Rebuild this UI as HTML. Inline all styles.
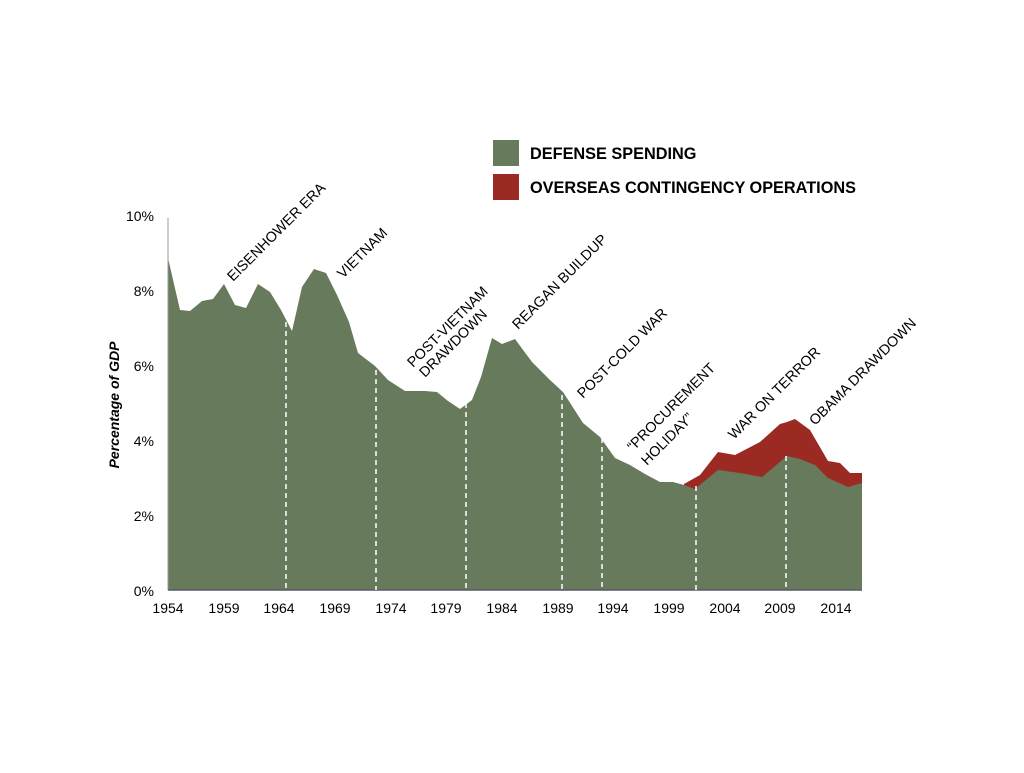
<!DOCTYPE html>
<html><head><style>body{margin:0;background:#fff}</style></head><body>
<svg width="1024" height="768" xmlns="http://www.w3.org/2000/svg" font-family="Liberation Sans, Arial, sans-serif">
<rect width="1024" height="768" fill="#fff"/>
<polygon fill="#9b2a22" points="684,484 700,475 718,452 735,455 760,442 780,424 787,422 795,419 810,430 828,461 840,463 850,473 862,473 862,490 684,490"/>
<polygon fill="#687a5c" points="168,590 168,258 180,310 190,311 202,301 213,299 224,284 235,305 246,308 258,284 270,292 281,310 292,331 302,287 314,269 326,273 337,295 349,322 358,353 375,366 388,380 405,391 425,391 437,392 448,401 460,409 472,400 481,377 492,338 502,344 515,339 532,362 550,380 563,392 583,423 600,437 615,458 630,465 645,474 660,482 673,482 684,485 695,489 718,470 740,473 762,477 787,456 800,459 815,465 828,478 848,487 862,483 862,590"/>
<line x1="168" y1="218" x2="168" y2="590" stroke="#999" stroke-width="1"/>
<line x1="168" y1="590" x2="862" y2="590" stroke="#555a6a" stroke-width="1.5"/>
<g stroke="#fff" stroke-width="1.5" stroke-dasharray="5,4">
<line x1="286" y1="322" x2="286" y2="590"/><line x1="376" y1="370" x2="376" y2="590"/><line x1="466" y1="385" x2="466" y2="590"/><line x1="562" y1="395" x2="562" y2="590"/><line x1="602" y1="438" x2="602" y2="590"/><line x1="696" y1="486" x2="696" y2="590"/><line x1="786" y1="456" x2="786" y2="590"/>
</g>
<g font-size="14" fill="#000" text-anchor="end">
<text x="154" y="221">10%</text><text x="154" y="296">8%</text><text x="154" y="371">6%</text><text x="154" y="446">4%</text><text x="154" y="521">2%</text><text x="154" y="596">0%</text>
</g>
<g font-size="14" fill="#000" text-anchor="middle">
<text x="168" y="613">1954</text><text x="224" y="613">1959</text><text x="279" y="613">1964</text><text x="335" y="613">1969</text><text x="391" y="613">1974</text><text x="446" y="613">1979</text><text x="502" y="613">1984</text><text x="558" y="613">1989</text><text x="613" y="613">1994</text><text x="669" y="613">1999</text><text x="725" y="613">2004</text><text x="780" y="613">2009</text><text x="836" y="613">2014</text>
</g>
<text transform="translate(119,405) rotate(-90)" font-size="14" font-weight="bold" font-style="italic" text-anchor="middle">Percentage of GDP</text>
<rect x="493" y="140" width="26" height="26" fill="#687a5c"/>
<rect x="493" y="174" width="26" height="26" fill="#9b2a22"/>
<text x="530" y="159" font-size="16.3" font-weight="bold">DEFENSE SPENDING</text>
<text x="530" y="193" font-size="16.3" font-weight="bold">OVERSEAS CONTINGENCY OPERATIONS</text>
<g font-size="14.4" fill="#000">
<text transform="translate(233,282) rotate(-45)">EISENHOWER ERA</text>
<text transform="translate(343,279) rotate(-45)">VIETNAM</text>
<text transform="translate(413,368) rotate(-45)">POST-VIETNAM</text>
<text transform="translate(425,378) rotate(-45)">DRAWDOWN</text>
<text transform="translate(518,330) rotate(-45)">REAGAN BUILDUP</text>
<text transform="translate(583,399) rotate(-45)">POST-COLD WAR</text>
<text transform="translate(633,452) rotate(-45)">“PROCUREMENT</text>
<text transform="translate(647,466) rotate(-45)">HOLIDAY”</text>
<text transform="translate(734,440) rotate(-45)">WAR ON TERROR</text>
<text transform="translate(815,426) rotate(-45)">OBAMA DRAWDOWN</text>
</g>
</svg>
</body></html>
